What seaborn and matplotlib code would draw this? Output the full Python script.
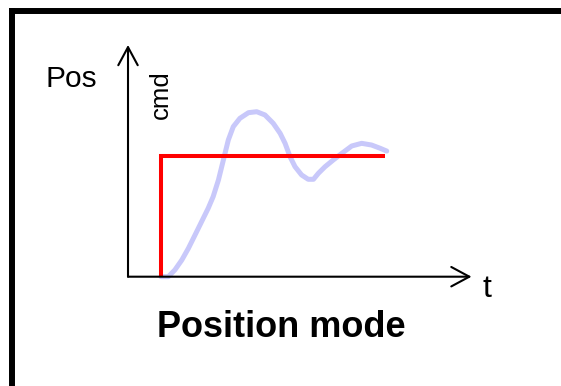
import matplotlib
matplotlib.use("Agg")
import matplotlib.pyplot as plt
from matplotlib.lines import Line2D
import numpy as np
import pandas as pd
import seaborn as sns

# --- data ---
cmd_t = [1.0, 1.0, 7.79]
cmd_pos = [0.0, 1.0, 1.0]

resp_t = [1.00, 1.22, 1.42, 1.63, 1.83, 2.03, 2.23, 2.43, 2.58, 2.74, 2.89, 3.04,
          3.19, 3.39, 3.65, 3.90, 4.15, 4.40, 4.61, 4.76, 4.91, 5.06, 5.26, 5.46,
          5.62, 5.77, 5.97, 6.22, 6.48, 6.78, 7.08, 7.38, 7.64, 7.84]
resp_pos = [0.000, 0.000, 0.056, 0.138, 0.235, 0.345, 0.456, 0.567, 0.663, 0.801,
            0.967, 1.133, 1.243, 1.312, 1.359, 1.367, 1.340, 1.271, 1.188, 1.105,
            0.994, 0.912, 0.843, 0.807, 0.807, 0.857, 0.911, 0.967, 1.022, 1.083,
            1.105, 1.091, 1.064, 1.041]

t_axis_end = 10.41
pos_axis_end = 1.92

y_label = "Pos"
cmd_label = "cmd"
x_label = "t"
title = "Position mode"

sns.set_theme(style="white")
plt.rcParams['font.family'] = ['Liberation Sans', 'DejaVu Sans']

XLIM = (-3.879, 13.121)
YLIM = (-0.9056, 2.2925)

fig = plt.figure(figsize=(5.61, 3.86), dpi=100)
ax = fig.add_axes([0, 0, 1, 1])

# axes arrows
arrow_kw = dict(arrowstyle="->,head_length=13,head_width=7", lw=1.5, color="black",
                mutation_scale=1, shrinkA=0, shrinkB=0)
ax.annotate("", xy=(t_axis_end, 0), xytext=(0, 0), arrowprops=arrow_kw)
ax.annotate("", xy=(0, pos_axis_end), xytext=(0, 0), arrowprops=arrow_kw)

resp_df = pd.DataFrame({"t": resp_t, "pos": resp_pos})
cmd_df = pd.DataFrame({"t": cmd_t, "pos": cmd_pos})

sns.lineplot(data=resp_df, x="t", y="pos", sort=False, estimator=None, ax=ax,
             color="#c8c8fa", lw=3.6, solid_capstyle="round", solid_joinstyle="round")
sns.lineplot(data=cmd_df, x="t", y="pos", sort=False, estimator=None, ax=ax,
             color="#ff0000", lw=2.9, solid_capstyle="butt", solid_joinstyle="miter")
ax.set_xlim(*XLIM)
ax.set_ylim(*YLIM)
ax.axis("off")

ax.text(-1.727, 1.574, y_label, fontsize=21.5, ha="center", va="baseline", color="black")
ax.text(1.212, 1.505, cmd_label, fontsize=18.5, rotation=90, rotation_mode="anchor",
        ha="center", va="baseline", color="black")
ax.text(10.87, -0.166, x_label, fontsize=23, ha="center", va="baseline", color="black")
ax.text(4.636, -0.4996, title, fontsize=26, fontweight="bold", ha="center",
        va="baseline", color="black")

# frame (only top and left borders are visible)
bx = 12.2 / 561
by = 1 - 11.3 / 386
fig.add_artist(Line2D([bx, 1.0], [by, by], transform=fig.transFigure, color="black",
                      lw=4.3, solid_capstyle="projecting"))
fig.add_artist(Line2D([bx, bx], [by, 0.0], transform=fig.transFigure, color="black",
                      lw=4.3, solid_capstyle="projecting"))

fig.savefig("out.png", dpi=100)
